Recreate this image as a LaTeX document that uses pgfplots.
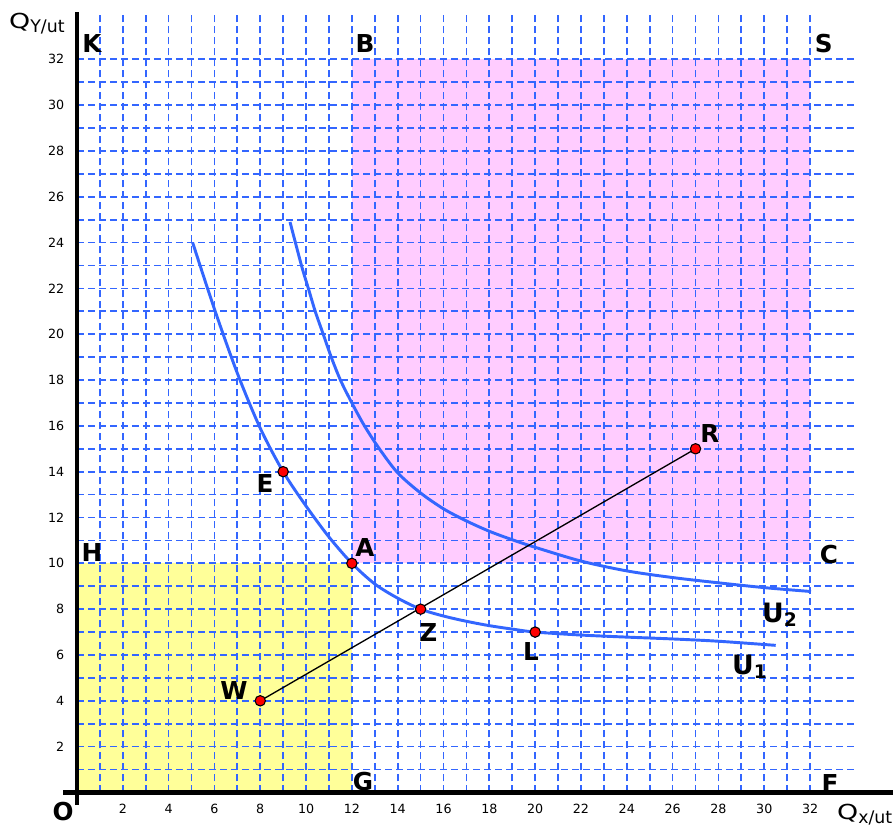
\documentclass[border=0pt]{standalone}
\usepackage{pgfplots}
\pgfplotsset{compat=1.18}
\usepackage{fontspec}
\setmainfont{DejaVu Sans}
\definecolor{gridblue}{RGB}{51,102,255}
\definecolor{curveblue}{RGB}{51,102,255}
\definecolor{pinkfill}{RGB}{255,204,255}
\definecolor{yellowfill}{RGB}{255,255,153}
\tikzset{
  lbl/.style={font=\bfseries\fontsize{18.5}{21}\selectfont, inner sep=0pt},
  gridln/.style={gridblue, line width=1.3pt, dash pattern=on 5.25pt off 3pt},
}
\begin{document}
\begin{tikzpicture}
\useasboundingbox (-57.72pt,-27.32pt) rectangle (611.95pt,594.26pt);
\begin{axis}[
  x=17.18pt, y=17.18pt,
  anchor=origin, at={(0pt,0pt)},
  xmin=0, xmax=35.6, ymin=0, ymax=34.1,
  axis line style={draw=none},
  major tick length=0pt,
  xtick={2,4,...,32}, ytick={2,4,...,32},
  tick label style={font=\fontsize{9.5}{11}\selectfont, /pgf/number format/assume math mode=true},
  xticklabel style={anchor=center, inner sep=0pt, yshift=-12.4pt},
  yticklabel style={anchor=east, inner sep=0pt, xshift=-9.4pt},
  clip=false,
]
% shaded regions
\addplot[draw=none, fill=yellowfill] coordinates {(0,0) (12,0) (12,10) (0,10)} -- cycle;
\addplot[draw=none, fill=pinkfill] coordinates {(12,10) (32,10) (32,32) (12,32)} -- cycle;
% points E and L (beneath grid and curve)
\addplot[only marks, mark=*, mark size=3.9pt, mark options={fill=red, draw=black, line width=0.8pt}] coordinates {(9,14) (20,7)};
% grid
\pgfplotsinvokeforeach{1,...,32}{
  \draw[gridln] (axis cs:#1,0) -- (axis cs:#1,34);
  \draw[gridln] (axis cs:0,#1) -- (axis cs:34,#1);
}
% axes
\draw[black, line width=3.2pt] (axis cs:-0.6,0) -- (axis cs:35.7,0);
\draw[black, line width=3.2pt] (axis cs:0,-0.55) -- (axis cs:0,34.07);
% U1
\addplot[curveblue, line width=2.2pt, smooth] coordinates {
(5.05,24.0) (6,21.1) (7,18.3) (8,15.9) (9,14) (10,12.5) (11,11.15) (12,10)
(13,9.1) (14,8.48) (15,8.0) (16,7.7) (17,7.47) (18,7.28) (19,7.13) (20,7.0)
(22,6.87) (24,6.78) (26,6.7) (28,6.6) (30.5,6.42)};
% U2
\addplot[curveblue, line width=2.2pt, smooth] coordinates {
(9.3,24.9) (9.8,23) (10.1,22) (10.4,21) (10.75,20) (11.1,19) (11.5,18) (12,17)
(12.55,16) (13.2,15) (14.0,13.95) (15,13.07) (16,12.38) (17,11.85) (18,11.4) (19,11.03)
(20,10.7) (22,10.1) (24,9.67) (26,9.38) (28,9.15) (30,8.94) (32.04,8.77)};
% line W-R
\addplot[black, line width=1pt] coordinates {(8,4) (27,15)};
% points
\addplot[only marks, mark=*, mark size=3.9pt, mark options={fill=red, draw=black, line width=0.8pt}] coordinates {(12,10) (15,8) (8,4) (27,15)};
% labels
\node[lbl] at (axis cs:0.65,32.67) {K};
\node[lbl] at (axis cs:12.57,32.67) {B};
\node[lbl] at (axis cs:32.6,32.67) {S};
\node[lbl] at (axis cs:0.65,10.46) {H};
\node[lbl] at (axis cs:32.82,10.37) {C};
\node[lbl] at (axis cs:12.57,10.69) {A};
\node[lbl] at (axis cs:8.21,13.47) {E};
\node[lbl] at (axis cs:15.34,6.96) {Z};
\node[lbl] at (axis cs:19.82,6.13) {L};
\node[lbl] at (axis cs:6.85,4.47) {W};
\node[lbl] at (axis cs:27.63,15.65) {R};
\node[lbl] at (axis cs:12.48,0.46) {G};
\node[lbl] at (axis cs:32.87,0.40) {F};
\node[lbl] at (axis cs:-0.61,-0.85) {O};
\node[anchor=base west, inner sep=0pt, font=\bfseries\fontsize{20}{23}\selectfont] at (axis cs:29.9,7.4) {U\raisebox{-3pt}{\fontsize{14}{16}\selectfont 2}};
\node[anchor=base west, inner sep=0pt, font=\bfseries\fontsize{20}{23}\selectfont] at (axis cs:28.59,5.13) {U\raisebox{-3pt}{\fontsize{14}{16}\selectfont 1}};
% axis titles
\node[anchor=base west, inner sep=0pt] at (axis cs:-2.97,33.33) {\scalebox{1.3}[1]{\fontsize{15.5}{18}\selectfont Q}\raisebox{-3pt}{\fontsize{13}{15}\selectfont Y/ut}};
\node[anchor=base west, inner sep=0pt] at (axis cs:33.17,-1.16) {\scalebox{1.3}[1]{\fontsize{15.5}{18}\selectfont Q}\raisebox{-3pt}{\fontsize{13}{15}\selectfont x/ut}};
\end{axis}
\end{tikzpicture}
\end{document}
